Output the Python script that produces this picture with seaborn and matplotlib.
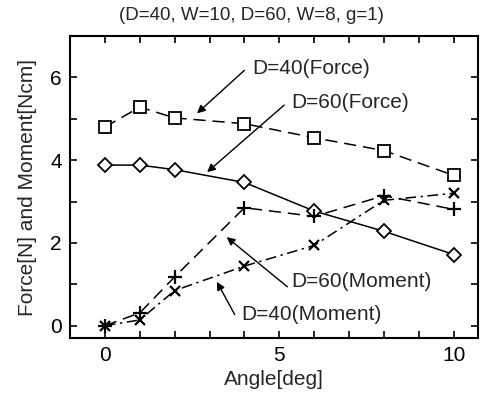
import matplotlib
matplotlib.use("Agg")
import matplotlib.pyplot as plt
import seaborn as sns
import pandas as pd
from matplotlib.ticker import MultipleLocator

angle = [0, 1, 2, 4, 6, 8, 10]
force_d40 = [4.80, 5.28, 5.02, 4.88, 4.54, 4.23, 3.63]
force_d60 = [3.88, 3.88, 3.77, 3.46, 2.77, 2.28, 1.72]
moment_d60 = [0.0, 0.31, 1.18, 2.85, 2.64, 3.14, 2.81]
moment_d40 = [0.0, 0.14, 0.85, 1.44, 1.94, 3.03, 3.20]

title = "(D=40, W=10, D=60, W=8, g=1)"
xlabel = "Angle[deg]"
ylabel = "Force[N] and Moment[Ncm]"

sns.set_theme(style="ticks")
plt.rcParams["font.family"] = ["Liberation Sans", "DejaVu Sans"]

fig = plt.figure(figsize=(4.83, 3.95), dpi=100)
ax = fig.add_axes([0.145, 0.144, 0.845, 0.765])

specs = [
    (force_d40, "s", (0, (8, 4.5)), 9, 1.3),
    (force_d60, "D", "-", 7, 1.3),
    (moment_d60, "+", (0, (8, 4.5)), 10, 1.6),
    (moment_d40, "x", (0, (7, 3, 1.5, 3)), 7, 1.6),
]
for vals, mk, ls, ms, mew in specs:
    df = pd.DataFrame({"x": angle, "y": vals})
    sns.lineplot(data=df, x="x", y="y", ax=ax, color="black", linewidth=1.1,
                 linestyle=ls, marker=mk, markersize=ms, markerfacecolor="white",
                 markeredgecolor="black", markeredgewidth=mew)

ax.set_xlim(-1, 10.7)
ax.set_ylim(-0.3, 7)
ax.xaxis.set_major_locator(MultipleLocator(5))
ax.xaxis.set_minor_locator(MultipleLocator(1))
ax.yaxis.set_major_locator(MultipleLocator(2))
ax.yaxis.set_minor_locator(MultipleLocator(1))
ax.tick_params(which="both", direction="in", top=True, right=True, labelsize=15, colors="black")
ax.tick_params(which="major", length=5, width=1.2, pad=6)
ax.tick_params(which="minor", length=5, width=1.2)
for s in ax.spines.values():
    s.set_linewidth(1.5)
    s.set_color("black")

ax.set_xlabel(xlabel, fontsize=15, labelpad=3)
ax.set_ylabel(ylabel, fontsize=15, labelpad=9)
fig.text(0.52, 0.962, title, fontsize=13.5, ha="center", va="center")

arrow = dict(arrowstyle="-|>", color="black", lw=1.0, mutation_scale=12, shrinkA=0, shrinkB=0)
# (label, tip, tail, text position)
notes = [
    ("D=40(Force)", (2.64, 5.13), (4.00, 6.17), (4.23, 6.22)),
    ("D=60(Force)", (2.93, 3.71), (5.14, 5.33), (5.34, 5.40)),
    ("D=60(Moment)", (3.49, 2.14), (5.23, 0.94), (5.34, 1.06)),
    ("D=40(Moment)", (3.21, 1.06), (3.72, 0.27), (3.92, 0.27)),
]
for label, tip, tail, pos in notes:
    ax.annotate("", xy=tip, xytext=tail, arrowprops=arrow)
    ax.text(pos[0], pos[1], label, fontsize=15, va="center", ha="left")

fig.savefig("out.png", dpi=100)
